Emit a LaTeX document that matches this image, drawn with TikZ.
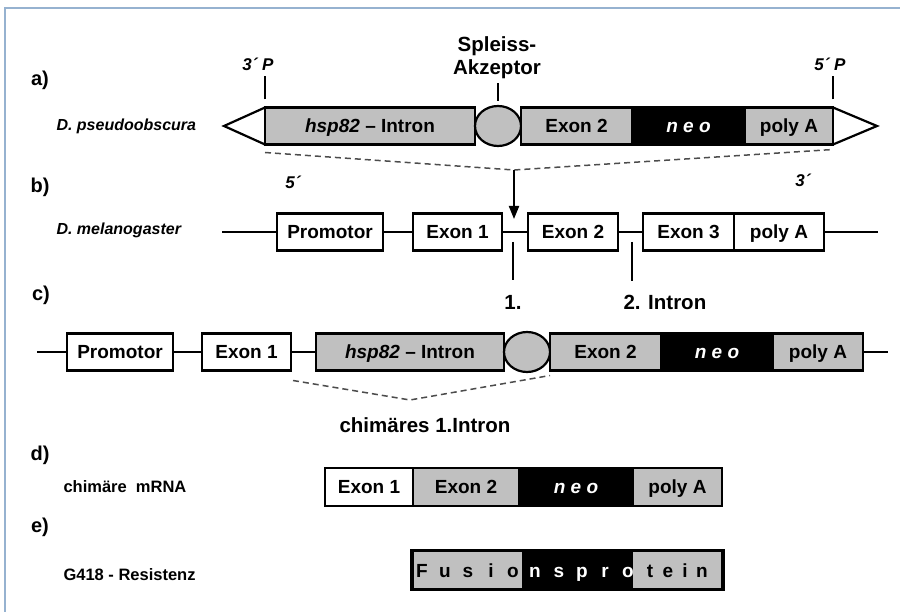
\documentclass[tikz,border=0pt]{standalone}
\usepackage{fontspec}
\setmainfont{Liberation Sans}
\usetikzlibrary{positioning,shapes.geometric,arrows.meta}
\definecolor{genegray}{RGB}{192,192,192}
\definecolor{framecol}{RGB}{150,178,208}

\begin{document}
\begin{tikzpicture}[x=1pt, y=-1pt,
box/.style={draw, line width=2.2pt, minimum height=37pt, inner sep=0pt, outer sep=0pt, text height=13.6pt, text depth=0pt, font=\bfseries\fontsize{19}{21}\selectfont},
wbox/.style={box, fill=white},
gbox/.style={box, fill=genegray},
nbox/.style={box, fill=black, text=white, font=\bfseries\itshape\fontsize{19}{21}\selectfont},
spl/.style={ellipse, draw, line width=2.2pt, fill=genegray, minimum width=46pt, minimum height=40pt, inner sep=0pt, outer sep=0pt},
dna/.style={line width=2.5pt},
cut/.style={dash pattern=on 6pt off 4pt, line width=1.5pt, black!70},
rowlab/.style={font=\bfseries\fontsize{20}{22}\selectfont},
orglab/.style={anchor=west, font=\bfseries\itshape\fontsize{16}{18}\selectfont},
seqlab/.style={anchor=west, font=\bfseries\fontsize{16.5}{18}\selectfont},
tag/.style={font=\bfseries\itshape\fontsize{17}{19}\selectfont},
txt/.style={font=\bfseries\fontsize{20.5}{23}\selectfont},
letter/.style={anchor=base, font=\bfseries\fontsize{19}{21}\selectfont}
]
\useasboundingbox (0,0) rectangle (900,612);
\draw[framecol, line width=2pt] (5,612) -- (5,8) -- (900,8);

%Labels
\node[rowlab] (la) at (40,80)  {a)};
\node[rowlab] (lb) at (40,187) {b)};
\node[rowlab] (lc) at (41,295) {c)};
\node[rowlab] (ld) at (40,455) {d)};
\node[rowlab] (le) at (40,527) {e)};
\node[orglab] (pseudo) at (53,126) {D. pseudoobscura};
\node[orglab] (mela)   at (53,230) {D. melanogaster};
\node[seqlab] (mrna)   at (60,487) {chimäre~~mRNA};
\node[seqlab] (resist) at (60,575) {G418 - Resistenz};

%a) P-element
\node[gbox, minimum width=210pt] (hspA)  at (370,126)     {\textit{hsp82} – Intron};
\node[spl]                        (splA)  [right=0pt of hspA] {};
\node[gbox, minimum width=111pt] (ex2A)  [right=0pt of splA] {Exon 2};
\node[nbox, minimum width=113pt] (neoA)  [right=0pt of ex2A] {n e o};
\node[gbox, minimum width=88pt]  (polyA) [right=0pt of neoA] {poly A};
\coordinate (tipL) at (224,126);
\coordinate (tipR) at (877,126);
\draw[line width=2.2pt, line join=miter] (hspA.north west) -- (tipL) -- (hspA.south west);
\draw[line width=2.2pt, line join=miter] (polyA.north east) -- (tipR) -- (polyA.south east);
\node[tag] (p3) at (258,64) {3´ P};
\node[tag] (p5) at (830,64) {5´ P};
\draw[dna] ([yshift=8pt]hspA.north west) -- ++(0,-23);
\draw[dna] ([yshift=8pt]polyA.north east) -- ++(0,-23);
\node[txt, align=center] (akz) at (497,58) {Spleiss-\\Akzeptor};
\draw[dna] ([yshift=5pt]splA.north) -- ++(0,-18);
\coordinate (kinkA) at (514,170);
\coordinate (arrtip) at (514,219);
\draw[cut] ([yshift=-8pt]hspA.south west) -- (kinkA) -- ([yshift=-5pt]polyA.south east);
\draw[line width=2pt, -{Triangle[length=13pt, width=10pt]}] (kinkA) -- (arrtip);
\node[tag] (e5) at (293,182) {5´};
\node[tag] (e3) at (803,180) {3´};

%b) gene
\node[wbox, minimum width=106pt] (promB)  at (330,232)            {Promotor};
\node[wbox, minimum width=89pt]  (exon1B) [right=30pt of promB]   {Exon 1};
\node[wbox, minimum width=90pt]  (exon2B) [right=26pt of exon1B]  {Exon 2};
\node[wbox, minimum width=91pt]  (exon3B) [right=25pt of exon2B]  {Exon 3};
\node[wbox, minimum width=90pt]  (polyB)  [right=0pt of exon3B]   {poly A};
\coordinate (startB) at (222,232);
\coordinate (endB)   at (878,232);
\draw[dna] (startB) -- (promB);
\draw[dna] (promB) -- (exon1B);
\draw[dna] (exon1B) -- (exon2B);
\draw[dna] (exon2B) -- (exon3B);
\draw[dna] (polyB) -- (endB);
\draw[dna] (513,242) -- (513,280);
\draw[dna] (632,242) -- (632,281);
\node[txt] (in1) at (513,302) {1.};
\node[txt, anchor=west] (in2) at (620,302) {2. Intron};

%c) chimeric gene
\node[wbox, minimum width=106pt] (promC)  at (120,352)            {Promotor};
\node[wbox, minimum width=89pt]  (exon1C) [right=29pt of promC]   {Exon 1};
\node[gbox, minimum width=188pt] (hspC)   [right=25pt of exon1C]  {\textit{hsp82} – Intron};
\node[spl]                        (splC)   [right=0pt of hspC]     {};
\node[gbox, minimum width=111pt] (exon2C) [right=0pt of splC]     {Exon 2};
\node[nbox, minimum width=112pt] (neoC)   [right=0pt of exon2C]   {n e o};
\node[gbox, minimum width=90pt]  (polyC)  [right=0pt of neoC]     {poly A};
\coordinate (startC) at (37,352);
\coordinate (endC)   at (888,352);
\draw[dna] (startC) -- (promC);
\draw[dna] (promC) -- (exon1C);
\draw[dna] (exon1C) -- (hspC);
\draw[dna] (polyC) -- (endC);
\coordinate (kinkC) at (410,400);
\draw[cut] ([shift={(2pt,-10pt)}]exon1C.south east) -- (kinkC) -- ([yshift=-5pt]exon2C.south west);
\node[txt] (chim) at (425,425) {chimäres 1.Intron};

%d) mRNA
\node[wbox, minimum width=88pt, minimum height=38pt]  (exon1D) at (369,487)          {Exon 1};
\node[gbox, minimum width=106pt, minimum height=38pt] (exon2D) [right=0pt of exon1D] {Exon 2};
\node[nbox, minimum width=114pt, minimum height=38pt] (neoD)   [right=0pt of exon2D] {n e o};
\node[gbox, minimum width=89pt, minimum height=38pt]  (polyD)  [right=0pt of neoD]   {poly A};

%e) protein
\node[gbox, draw=none, minimum width=110pt, minimum height=39pt] (fusL) at (467,570)        {};
\node[box, draw=none, fill=black, minimum width=111pt, minimum height=39pt] (fusM) [right=0pt of fusL] {};
\node[gbox, draw=none, minimum width=90pt, minimum height=39pt]  (fusR) [right=0pt of fusM] {};
\draw[line width=3.2pt] (fusL.north west) rectangle (fusR.south east);
\foreach \ch/\xx [count=\i] in {F/422,u/445,s/468,i/491,o/513,t/650,e/668,i/685,n/702}
  \node[letter] (fg\i) at (\xx,577) {\ch};
\foreach \ch/\xx [count=\i] in {n/535,s/559,p/582,r/605,o/628}
  \node[letter, text=white] (fb\i) at (\xx,577) {\ch};
\end{tikzpicture}
\end{document}
